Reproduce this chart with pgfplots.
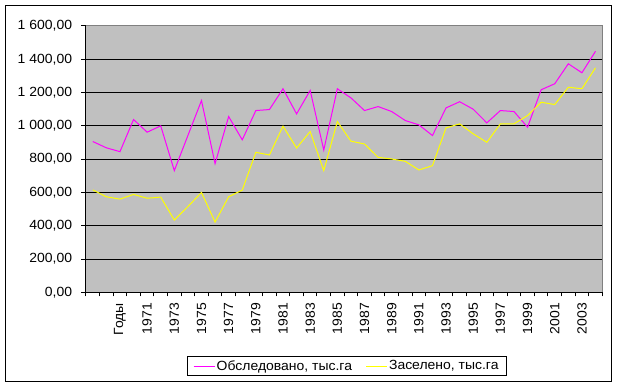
\documentclass[border=0pt]{standalone}
\usepackage{pgfplots}
\pgfplotsset{compat=1.18}
\usepackage{pgfplotstable}
\usepackage{fontspec}
\setmainfont[FakeStretch=1.05]{Liberation Sans}
\newcommand\cf{\fontsize{13.3bp}{16bp}\selectfont}
\definecolor{plotbg}{RGB}{192,192,192}
\definecolor{frame}{RGB}{128,128,128}
\definecolor{mag}{RGB}{255,0,255}
\definecolor{yel}{RGB}{255,255,0}

\pgfplotstableread{
i ob za
0 906 615
1 868 574
2 845 560
3 1038 588
4 962 565
5 1000 572
6 731 434
7 942 515
8 1152 600
9 773 422
10 1056 574
11 916 614
12 1092 841
13 1098 825
14 1223 998
15 1072 867
16 1213 966
17 855 731
18 1223 1026
19 1168 908
20 1092 891
21 1116 811
22 1086 801
23 1032 787
24 1006 735
25 942 761
26 1108 988
27 1145 1012
28 1100 952
29 1018 901
30 1092 1012
31 1086 1012
32 992 1062
33 1217 1142
34 1253 1128
35 1373 1232
36 1319 1223
37 1448 1349
}\data

\begin{document}
\begin{tikzpicture}
\useasboundingbox (-86bp,-94.7bp) rectangle (531bp,292.3bp);
\draw[black,line width=1bp] (-80.7bp,-89.4bp) rectangle (525bp,287bp);
\begin{axis}[
  at={(0,0)}, anchor=south west,
  scale only axis, width=516.3bp, height=266.3bp,
  xmin=-0.5, xmax=37.5, ymin=0, ymax=1600,
  axis lines=left,
  axis line style={-, black, line width=1bp},
  axis background/.style={fill=plotbg},
  ymajorgrids,
  grid style={black, line width=1bp},
  tick align=outside,
  major tick length=4.7bp,
  minor tick length=4bp,
  ytick={0,200,...,1600},
  yticklabels={{0,00},{200,00},{400,00},{600,00},{800,00},{1 000,00},{1 200,00},{1 400,00},{1 600,00}},
  ytick style={black, line width=1bp},
  xtick={2,4,...,36},
  xticklabels={Годы,1971,1973,1975,1977,1979,1981,1983,1985,1987,1989,1991,1993,1995,1997,1999,2001,2003},
  minor xtick={-0.5,0.5,...,37.5},
  xtick style={draw=none},
  minor x tick style={draw=black, line width=1bp},
  tick label style={font=\cf, text=black},
  xticklabel style={rotate=90, anchor=east, inner sep=0pt},
  yticklabel style={anchor=east, inner sep=0pt},
  xticklabel shift=6bp,
  yticklabel shift=9bp,
  legend columns=2,
  legend style={at={(axis description cs:0.5,0)}, anchor=center, xshift=2.5bp, yshift=-73.7bp,
    draw=black, line width=1bp, font=\cf, inner xsep=6bp, inner ysep=2bp,
    /tikz/every even column/.append style={column sep=12bp},
    nodes={inner sep=1.5bp}},
  legend image code/.code={\draw[#1] (0bp,0bp) -- (21bp,0bp);},
  legend cell align=left,
  after end axis/.code={\draw[frame, line width=1bp] (rel axis cs:0,1) -- (rel axis cs:1,1) -- (rel axis cs:1,0);},
]
\addplot[mag, line width=1bp] table[x=i, y=ob] {\data};
\addlegendentry{Обследовано, тыс.га}
\addplot[yel, line width=1bp] table[x=i, y=za] {\data};
\addlegendentry{Заселено, тыс.га}
\end{axis}
\end{tikzpicture}
\end{document}
